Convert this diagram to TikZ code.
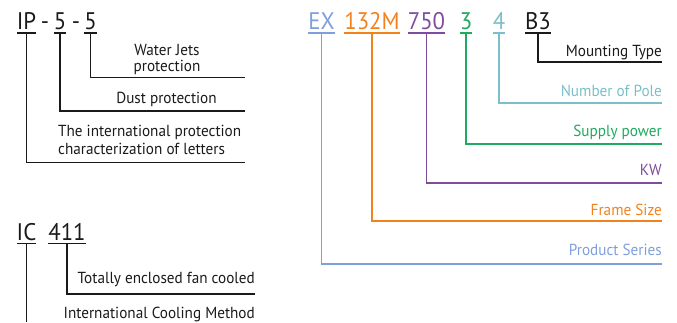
\documentclass[tikz,border=0pt]{standalone}
\usepackage{fontspec}
\setmainfont[FakeStretch=0.95]{PT Sans}
\definecolor{cseries}{HTML}{7F9FDB}
\definecolor{cframe}{HTML}{F2821E}
\definecolor{ckw}{HTML}{7D4C9E}
\definecolor{csupply}{HTML}{1EAA5F}
\definecolor{cpole}{HTML}{7BBFC8}
\definecolor{cink}{HTML}{1A1A1A}
\tikzset{
  code/.style={font=\fontsize{24}{26}\selectfont, inner xsep=0pt, inner ysep=3.5pt,
    text depth=0pt, anchor=base, outer sep=0pt},
  lbltext/.style={font=\fontsize{16}{18}\selectfont, inner sep=0pt},
  lbl/.style={lbltext, anchor=base east},
  lead/.style={line width=1.4pt},
}
\newcommand{\uline}[1]{\draw[lead] (#1.south west) -- (#1.south east);}
\begin{document}
\begin{tikzpicture}[x=1pt,y=-1pt]
\useasboundingbox (0,0) rectangle (677,322);

% IP code
\begin{scope}[cink]
\node[code] (ip) at (26.5,29.5) {IP};
\node[code] (ipd1) at (45,29.5) {-};
\node[code] (ip1) at (60,29.5) {5};
\node[code] (ipd2) at (76,29.5) {-};
\node[code] (ip2) at (90.5,29.5) {5};
\uline{ip} \uline{ip1} \uline{ip2}
\coordinate (ipe2) at (245,77.5);
\coordinate (ipe1) at (245,111);
\coordinate (ipe0) at (245,162.5);
\draw[lead] (ip2.south) |- (ipe2);
\draw[lead] (ip1.south) |- (ipe1);
\draw[lead] (ip.south) |- (ipe0);
\node[lbltext, font=\fontsize{16}{16}\selectfont, align=center, anchor=base] (wj) at (167,71) {Water Jets\\protection};
\node[lbltext, anchor=base] (dust) at (166.5,103) {Dust protection};
\node[lbltext, align=left, anchor=base west] (ipl) at (58,154) {The international protection\\characterization of letters};

% IC code
\node[code] (ic) at (26.5,240) {IC};
\node[code] (ic1) at (67,240) {411};
\uline{ic} \uline{ic1}
\coordinate (ice1) at (255,294);
\coordinate (ice0) at (27,322);
\draw[lead] (ic1.south) |- (ice1);
\draw[lead] (ic.south) -- (ic.south |- ice0);
\node[lbl] (icl1) at (255,283) {Totally enclosed fan cooled};
\node[lbl] (icl0) at (255,318) {International Cooling Method};
\end{scope}

% Motor type code
\node[code, cseries] (ex) at (321.5,29.5) {EX};
\node[code, cframe] (frame) at (372,29.5) {132M};
\node[code, ckw] (kw) at (426.5,29.5) {750};
\node[code, csupply] (sup) at (466,29.5) {3};
\node[code, cpole] (pole) at (499,29.5) {4};
\node[code, cink] (mnt) at (538,29.5) {B3};
\foreach \n/\c in {ex/cseries,frame/cframe,kw/ckw,sup/csupply,pole/cpole,mnt/cink}
  \draw[lead,\c] (\n.south west) -- (\n.south east);

\coordinate (mnte) at (662,62);
\coordinate (polee) at (662,103);
\coordinate (supe) at (662,144);
\coordinate (kwe) at (662,183);
\coordinate (framee) at (662,221);
\coordinate (exe) at (662,264);
\draw[lead,cink] (mnt.south) |- (mnte);
\draw[lead,cpole] (pole.south) |- (polee);
\draw[lead,csupply] (sup.south) |- (supe);
\draw[lead,ckw] (kw.south) |- (kwe);
\draw[lead,cframe] (frame.south) |- (framee);
\draw[lead,cseries] (ex.south) |- (exe);

\node[lbl, cink] (mntl) at (662,56.7) {Mounting Type};
\node[lbl, cpole] (polel) at (662,96.7) {Number of Pole};
\node[lbl, csupply] (supl) at (662,136.7) {Supply power};
\node[lbl, ckw] (kwl) at (662,175.7) {KW};
\node[lbl, cframe] (framel) at (662,215) {Frame Size};
\node[lbl, cseries] (exl) at (662,255) {Product Series};
\end{tikzpicture}
\end{document}
